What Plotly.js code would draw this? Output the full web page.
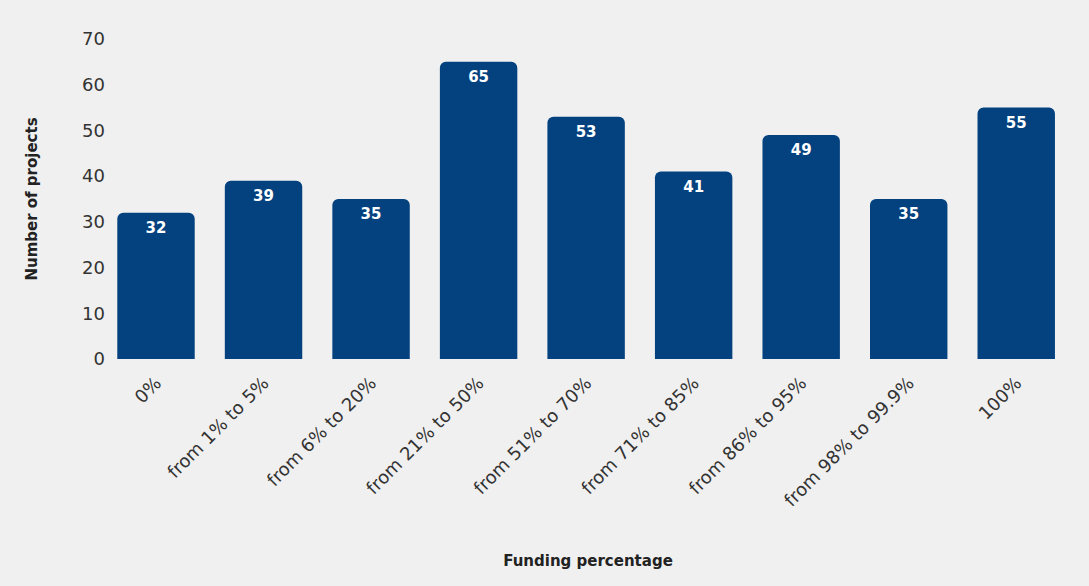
<!DOCTYPE html>
<html>
<head>
<meta charset="utf-8">
<script src="https://cdn.plot.ly/plotly-3.0.1.min.js"></script>
<style>html,body{margin:0;padding:0;background:#f0f0f0;}#chart{width:1089px;height:586px;}</style>
</head>
<body>
<div id="chart"></div>
<script>
const categories = ["0%", "from 1% to 5%", "from 6% to 20%", "from 21% to 50%", "from 51% to 70%", "from 71% to 85%", "from 86% to 95%", "from 98% to 99.9%", "100%"];
const projectCounts = [32, 39, 35, 65, 53, 41, 49, 35, 55];
const yTickValues = [0, 10, 20, 30, 40, 50, 60, 70];

const FONT = "DejaVu Sans, sans-serif";
const trace = {
  type: "bar",
  x: categories,
  y: projectCounts,
  text: projectCounts.map(String),
  textposition: "inside",
  insidetextanchor: "end",
  textangle: 0,
  textfont: {family: FONT, size: 15, color: "#ffffff", weight: "bold"},
  marker: {color: "#03427f", cornerradius: 6},
  hoverinfo: "none"
};
const layout = {
  width: 1089, height: 586,
  paper_bgcolor: "#f0f0f0", plot_bgcolor: "#f0f0f0",
  margin: {l: 106, r: 19, t: 39, b: 227},
  bargap: 0.28,
  showlegend: false,
  font: {family: FONT, color: "#333333"},
  xaxis: {
    type: "category",
    range: [-0.465, 8.5],
    tickangle: -45,
    ticklabelstandoff: 9,
    tickfont: {family: FONT, size: 18, color: "#333333"},
    showgrid: false, zeroline: false, showline: false, ticks: "",
    title: {text: "Funding percentage", font: {family: FONT, size: 15, color: "#222222", weight: "bold"}, standoff: 46}
  },
  yaxis: {
    range: [0, 70],
    tickvals: yTickValues,
    tickfont: {family: FONT, size: 18, color: "#333333"},
    showgrid: false, zeroline: false, showline: false, ticks: "",
    title: {text: "Number of projects", font: {family: FONT, size: 15, color: "#222222", weight: "bold"}, standoff: 40}
  }
};
Plotly.newPlot("chart", [trace], layout, {displayModeBar: false, staticPlot: true});
</script>
</body>
</html>
